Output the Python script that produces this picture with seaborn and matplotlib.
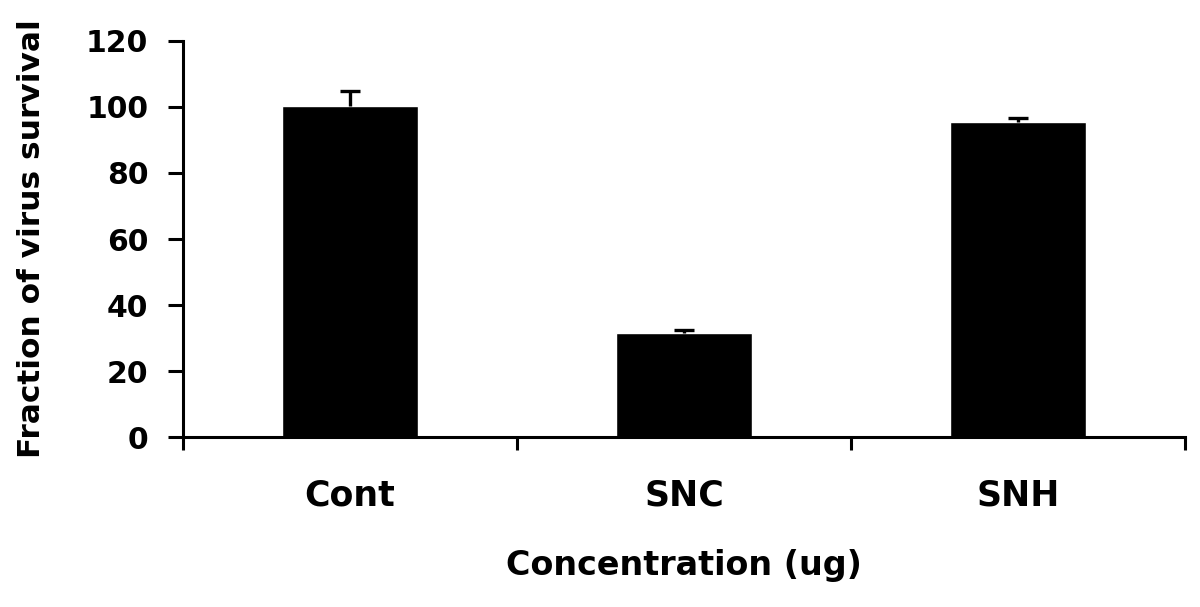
import numpy as np
import pandas as pd
import matplotlib
matplotlib.use("Agg")
import matplotlib.pyplot as plt
import seaborn as sns

# values
groups = ["Cont", "SNC", "SNH"]
survival = [100.3, 31.6, 95.5]
err_up = [4.4, 0.7, 1.3]

df = pd.DataFrame({"group": groups, "survival": survival})

sns.set_style("ticks")
plt.rcParams['font.family'] = ['DejaVu Sans']
plt.rcParams['font.weight'] = 'bold'
for key in ["text.color", "axes.labelcolor", "xtick.color", "ytick.color", "axes.edgecolor"]:
    plt.rcParams[key] = "black"

fig = plt.figure(figsize=(12, 6.07), dpi=100)
ax = fig.add_axes([0.1525, 0.28, 0.835, 0.6525])

sns.barplot(data=df, x="group", y="survival", color="black", width=0.41,
            errorbar=None, saturation=1, ax=ax)
# upward-only error bars
eb = ax.errorbar(np.arange(len(groups)), survival, yerr=[np.zeros(len(groups)), err_up],
                 fmt="none", ecolor="black", elinewidth=2.4, capsize=7, capthick=2.4)
eb[1][0].set_visible(False)  # no cap on the bar top

ax.set_xlim(-0.5, 2.5)
ax.set_ylim(0, 120)
ax.set_yticks(np.arange(0, 121, 20))

# ticks sit between categories on the x axis
ax.set_xticks([-0.5, 0.5, 1.5, 2.5], minor=True)
ax.tick_params(axis="x", which="major", length=0, pad=30, labelsize=25)
ax.tick_params(axis="x", which="minor", length=9.5, width=2.2, direction="out")
ax.tick_params(axis="y", length=11, width=2.2, pad=14, labelsize=21.5)
for lab in ax.get_xticklabels() + ax.get_yticklabels():
    lab.set_fontweight("bold")

ax.set_xlabel("Concentration (ug)", fontsize=24, fontweight="bold", labelpad=26)
ax.set_ylabel("Fraction of virus survival", fontsize=22.5, fontweight="bold", labelpad=29)

sns.despine(ax=ax)
ax.spines["left"].set_linewidth(2.2)
ax.spines["bottom"].set_linewidth(2.2)

fig.savefig("out.png", dpi=100)
